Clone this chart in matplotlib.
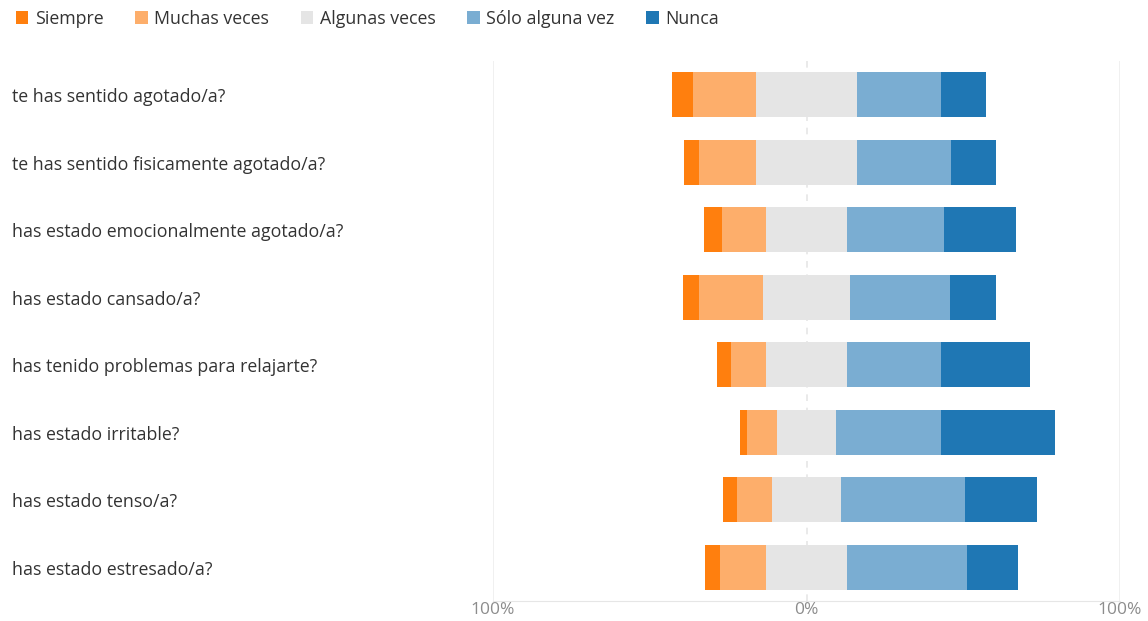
import numpy as np
import matplotlib.pyplot as plt
from matplotlib.patches import Patch
from matplotlib.transforms import blended_transform_factory

plt.rcParams['font.family'] = ['Open Sans', 'DejaVu Sans']

preguntas = [
    "te has sentido agotado/a?",
    "te has sentido fisicamente agotado/a?",
    "has estado emocionalmente agotado/a?",
    "has estado cansado/a?",
    "has tenido problemas para relajarte?",
    "has estado irritable?",
    "has estado tenso/a?",
    "has estado estresado/a?",
]
categorias = ["Siempre", "Muchas veces", "Algunas veces", "Sólo alguna vez", "Nunca"]

# porcentajes
siempre = [6.4, 4.6, 5.6, 5.0, 4.5, 2.1, 4.4, 4.7]
muchas = [20.3, 18.3, 14.0, 20.3, 11.1, 9.5, 11.4, 14.6]
algunas = [32.1, 32.1, 26.1, 28.0, 26.1, 19.1, 21.8, 26.1]
solo = [26.7, 29.9, 30.7, 31.8, 30.0, 33.5, 39.7, 38.1]
nunca = [14.6, 14.6, 23.1, 14.7, 28.4, 36.2, 22.9, 16.2]

colores = ["#ff7f0e", "#fdae6b", "#e5e5e5", "#7aadd2", "#1f77b4"]

datos = np.array([siempre, muchas, algunas, solo, nunca]).T
inicio = -(datos[:, 0] + datos[:, 1] + datos[:, 2] / 2)

fig = plt.figure(figsize=(11.48, 6.21), dpi=100)
ax = fig.add_axes([493 / 1148, 1 - 601 / 621, (1120 - 493) / 1148, 540 / 621])

y = np.arange(len(preguntas))
izq = inicio.copy()
for k in range(5):
    ax.barh(y, datos[:, k], left=izq, height=0.66, color=colores[k],
            edgecolor="none", zorder=3)
    izq = izq + datos[:, k]

ax.set_xlim(-100, 100)
ax.set_ylim(7.5, -0.5)

for s in ["top", "right", "left"]:
    ax.spines[s].set_visible(False)
ax.spines["bottom"].set_color("#e6e6e6")
ax.axvline(-100, color="#eeeeee", lw=1.2, zorder=1)
ax.axvline(100, color="#eeeeee", lw=1.2, zorder=1)
ax.axvline(0, color="#e6e6e6", lw=1.2, ls=(0, (4, 4)), zorder=1)

ax.set_yticks([])
ax.set_xticks([-100, 0, 100])
ax.set_xticklabels(["100%", "0%", "100%"], color="#8c8c8c", fontsize=12.5)
ax.tick_params(axis="x", length=0, pad=1)

trans = blended_transform_factory(fig.transFigure, ax.transData)
for i, q in enumerate(preguntas):
    ax.text(12 / 1148, i + 0.04, q, transform=trans, ha="left", va="center",
            fontsize=12.8, color="#333333")

handles = [Patch(facecolor=c, edgecolor="none") for c in colores]
fig.legend(handles, categorias, loc="upper left", bbox_to_anchor=(0.0, 1.01),
           ncol=5, frameon=False, fontsize=12.8, handlelength=0.7,
           handleheight=0.7, handletextpad=0.35, columnspacing=1.8,
           labelcolor="#333333")

fig.savefig("out.png", dpi=100)
